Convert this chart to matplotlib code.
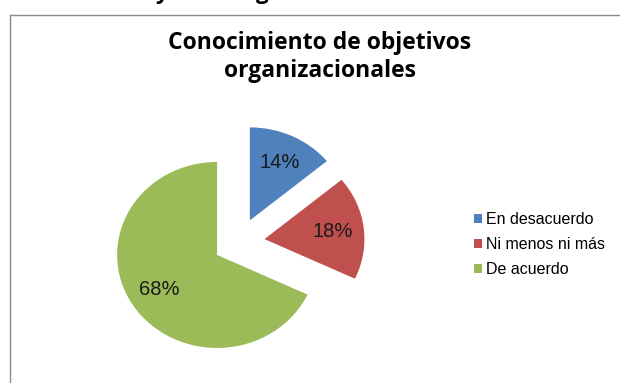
import matplotlib.pyplot as plt
from matplotlib.lines import Line2D

categorias = ["En desacuerdo", "Ni menos ni más", "De acuerdo"]
porcentajes = [14, 18, 68]
colores = ["#4F81BD", "#C0504D", "#9BBB59"]
titulo = "Conocimiento de objetivos\norganizacionales"

W, H = 620, 383
sx = 1.075  # the pie is drawn slightly wider than tall
R = 93

fig = plt.figure(figsize=(W / 100, H / 100), dpi=100)
ax = fig.add_axes([0, 0, 1, 1])

# explode is in data units when radius != 1
wedges, textos, autotextos = ax.pie(
    porcentajes,
    colors=colores,
    startangle=90,
    counterclock=False,
    explode=[24] * 3,
    radius=R,
    center=(222.2, 140.9),
    autopct="%d%%",
    pctdistance=0.69,
    frame=True,
    textprops={"family": "Liberation Sans", "fontsize": 14.5, "color": "#1a1a1a"},
)
ax.set_aspect("auto")
ax.set_xlim(0, W / sx)
ax.set_ylim(0, H)
ax.axis("off")

fig.text(320 / W, 1 - 57 / H, titulo, ha="center", va="center",
         family="Open Sans", weight="bold", fontsize=16.5, linespacing=1.18)

leg = ax.legend(wedges, categorias, loc="upper left",
                bbox_to_anchor=(460 / W, 1 - 198 / H),
                frameon=False, handlelength=0.5, handleheight=0.5,
                handletextpad=0.25, labelspacing=0.62,
                prop={"family": "Liberation Sans", "size": 11.5})

# frame of the chart area, cut by the image edge
fig.add_artist(Line2D([10 / W, 10 / W], [0, 1 - 15 / H], color="#8c8c8c", lw=1))
fig.add_artist(Line2D([10 / W, 1], [1 - 15 / H, 1 - 15 / H], color="#8c8c8c", lw=1))

# heading line of the page above the chart, mostly outside the image
for letra, x in [("y", 161), ("g", 262)]:
    fig.text(x / W, 1 + 1.5 / H, letra, ha="center", va="baseline",
             family="Open Sans", weight="bold", fontsize=16)

fig.savefig("out.png", dpi=100)
